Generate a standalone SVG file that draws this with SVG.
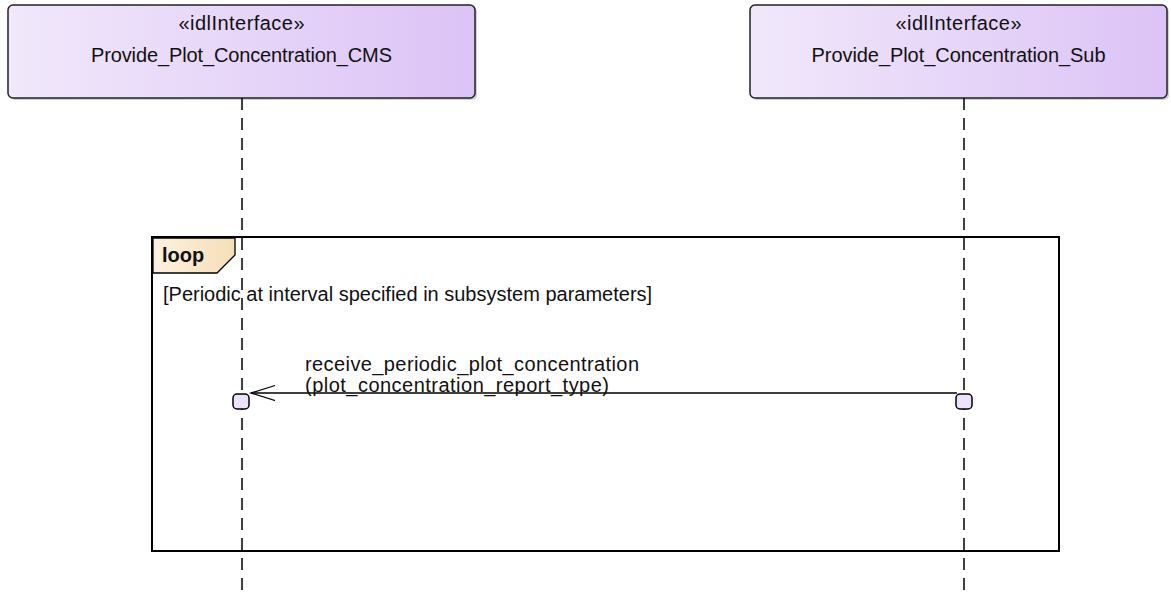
<svg xmlns="http://www.w3.org/2000/svg" width="1171" height="596" viewBox="0 0 1171 596">
<defs>
<linearGradient id="nodeGrad" x1="0" y1="0" x2="1" y2="0">
<stop offset="0" stop-color="#f1e8fb"/>
<stop offset="1" stop-color="#dcc3f6"/>
</linearGradient>
<linearGradient id="tabGrad" x1="0" y1="0" x2="1" y2="0">
<stop offset="0" stop-color="#fdf1df"/>
<stop offset="1" stop-color="#f6deb8"/>
</linearGradient>
<marker id="openArrow" markerWidth="28" markerHeight="18" refX="25" refY="8" orient="auto" markerUnits="userSpaceOnUse">
<path d="M1,0.5 L25,8 L1,15.5" fill="none" stroke="#000" stroke-width="1.3"/>
</marker>
</defs>
<style>
.node{fill:url(#nodeGrad);stroke:#222;stroke-width:1.5}
.txt{font-family:"Liberation Sans",Arial,sans-serif;font-size:20px;fill:#111}
.life{stroke:#000;stroke-width:1.5;stroke-dasharray:12 8;fill:none}
.act{fill:#ede2fb;stroke:#000;stroke-width:1.5}
.frame{fill:none;stroke:#000;stroke-width:2}
</style>
<g id="node-cms">
<rect x="10" y="7" width="467" height="93" rx="5" fill="#999" opacity="0.45"/>
<rect class="node" x="8" y="5" width="467" height="93" rx="5"/>
<text class="txt" x="241.5" y="30" text-anchor="middle" textLength="126" lengthAdjust="spacing">«idlInterface»</text>
<text class="txt" x="241.5" y="62" text-anchor="middle" textLength="301" lengthAdjust="spacing">Provide_Plot_Concentration_CMS</text>
</g>
<g id="node-sub">
<rect x="752" y="7" width="417" height="93" rx="5" fill="#999" opacity="0.45"/>
<rect class="node" x="750" y="5" width="417" height="93" rx="5"/>
<text class="txt" x="958.5" y="30" text-anchor="middle" textLength="126" lengthAdjust="spacing">«idlInterface»</text>
<text class="txt" x="958.5" y="62" text-anchor="middle" textLength="294" lengthAdjust="spacing">Provide_Plot_Concentration_Sub</text>
</g>
<g id="lifelines">
<line class="life" x1="242" y1="98" x2="242" y2="596"/>
<line class="life" x1="964" y1="98" x2="964" y2="596"/>
</g>
<g id="loop-frame">
<rect class="frame" x="152" y="237" width="907" height="314"/>
<polygon points="153,238 235,238 235,255 217,273 153,273" fill="url(#tabGrad)" stroke="#000" stroke-width="1.3"/>
<text class="txt" x="162" y="262" font-size="18" font-weight="bold">loop</text>
<text class="txt" x="163" y="301">[Periodic at interval specified in subsystem parameters]</text>
</g>
<g id="connectors">
<line x1="957" y1="393" x2="251" y2="393" stroke="#000" stroke-width="1.3" marker-end="url(#openArrow)"/>
<text class="txt" x="305" y="371" textLength="334" lengthAdjust="spacing">receive_periodic_plot_concentration</text>
<text class="txt" x="305" y="392" textLength="304" lengthAdjust="spacing">(plot_concentration_report_type)</text>
</g>
<g id="activations">
<rect class="act" x="233" y="394" width="16" height="15" rx="4"/>
<rect class="act" x="956" y="394" width="16" height="15" rx="4"/>
</g>
</svg>
